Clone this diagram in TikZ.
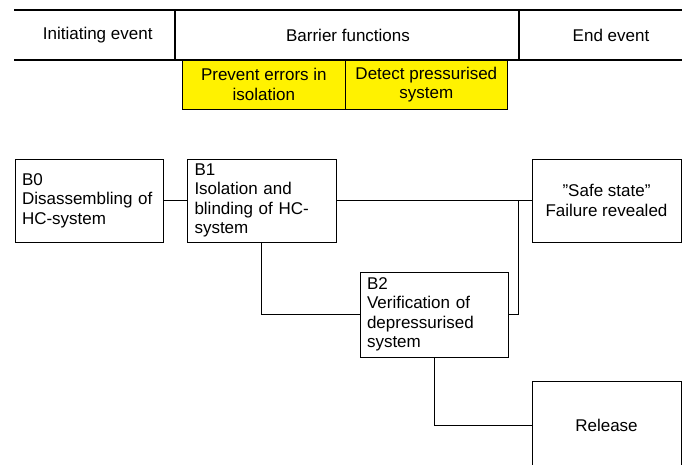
\documentclass[tikz,border=0pt]{standalone}
\usepackage{fontspec}
\setmainfont{Liberation Sans}
\begin{document}
\begin{tikzpicture}[x=1pt,y=-1pt,
  every node/.style={font=\fontsize{17}{19.5}\selectfont},
  thin line/.style={line width=0.9pt},
  hdr/.style={line width=1.8pt},
  box/.style={draw, thin line, minimum width=148pt, minimum height=83pt, inner sep=0pt, text width=134pt, align=left},
  endbox/.style={draw, thin line, minimum width=149pt, minimum height=83pt, inner sep=0pt, align=center},
  barrier/.style={draw, thin line, fill=yellow, minimum height=49pt, inner sep=0pt, align=center}]
\useasboundingbox (0,0) rectangle (682,465);
% header
\draw[hdr] (14,10.3) -- (682,10.3);
\draw[hdr] (14,60) -- (682,60);
\draw[hdr] (175,10.3) -- (175,60);
\draw[hdr] (518.7,10.3) -- (518.7,60);
\node (init) at (97.7,35) {Initiating event};
\node (barr) at (348,35) {Barrier functions};
\node (endev) at (611,35) {End event};
% barrier functions
\node[barrier, minimum width=162.3pt] (prev) at (263.85,84.5) {Prevent errors in\\isolation};
\node[barrier, minimum width=162.7pt] (det) at (426.35,84.5) {Detect pressurised\\system};
% boxes
\node[box] (b0) at (89,200.5) {B0\\Disassembling of\\HC-system};
\node[box, minimum width=149pt] (b1) at (261.5,200.5) {B1\\Isolation and\\blinding of HC-\\system};
\node[endbox] (safe) at (606.5,200.5) {”Safe state”\\Failure revealed};
\node[box, minimum height=85pt] (b2) at (434,314.5) {B2\\Verification of\\depressurised\\system};
\node[endbox, minimum height=89pt] (rel) at (606.5,425.5) {Release};
\coordinate (j) at (518,200.5);
% connectors
\draw[thin line] (b0) -- (b1);
\draw[thin line] (b1) -- (safe);
\draw[thin line] (b2.east) -| (j);
\draw[thin line] (b1.south) |- (b2.west);
\draw[thin line] (b2.south) |- (rel.west);
\end{tikzpicture}
\end{document}
